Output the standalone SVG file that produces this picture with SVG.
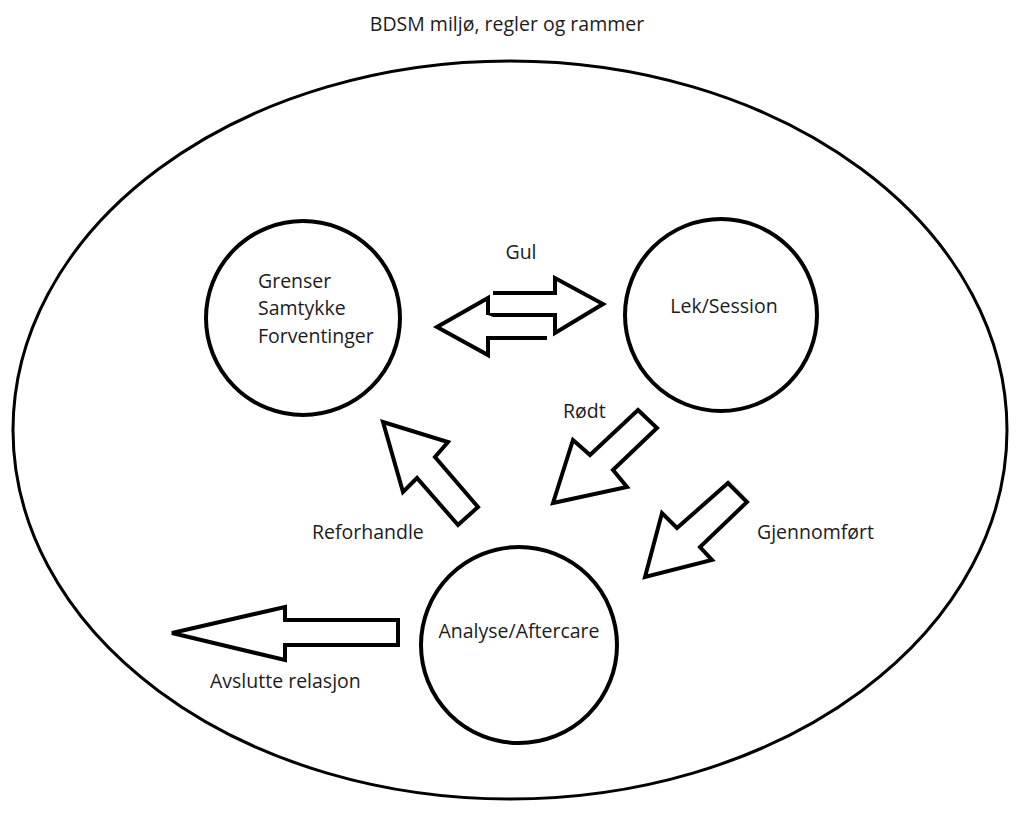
<svg xmlns="http://www.w3.org/2000/svg" width="1018" height="813" viewBox="0 0 1018 813">
<style>
.t{font-family:"Open Sans","Noto Sans","Liberation Sans",sans-serif;font-size:19.5px;fill:#1c1c1c}
.c{fill:#fff;stroke:#000;stroke-width:4}
.a{fill:#fff;stroke:#000;stroke-width:4;stroke-linejoin:miter}
</style>
<rect width="1018" height="813" fill="#fff"/>
<text class="t" x="507" y="31" text-anchor="middle">BDSM miljø, regler og rammer</text>
<g id="frame"><ellipse cx="510" cy="430" rx="497" ry="369" fill="#fff" stroke="#000" stroke-width="3"/></g>
<g id="grenser">
<circle class="c" cx="303" cy="318" r="97"/>
<text class="t" x="258" y="288">Grenser</text>
<text class="t" x="258" y="315">Samtykke</text>
<text class="t" x="258" y="343">Forventinger</text>
</g>
<g id="lek">
<circle class="c" cx="721" cy="315" r="96"/>
<text class="t" x="724" y="313" text-anchor="middle">Lek/Session</text>
</g>
<g id="analyse">
<circle class="c" cx="519" cy="645" r="98"/>
<text class="t" x="519" y="638" text-anchor="middle">Analyse/Aftercare</text>
</g>
<g id="connectors">
<path class="a" d="M493,293 L555,293 L555,278 L603,304 L555,333 L555,315 L488,315"/>
<path class="a" d="M488,315 L488,298 L437,327 L488,355 L488,338 L547,338"/>
<polygon class="a" points="638,410 657,428 613,470 627,487 553,503 573,440 590,455"/>
<polygon class="a" points="383,422 448,442 435,457 478,507 458,525 417,478 403,492"/>
<polygon class="a" points="728,483 747,502 700,547 712,560 645,577 662,513 677,528"/>
<polygon class="a" points="172,633 285,607 285,620 398,620 398,645 285,645 285,660"/>
<text class="t" x="521" y="259" text-anchor="middle">Gul</text>
<text class="t" x="563" y="418">Rødt</text>
<text class="t" x="312" y="539">Reforhandle</text>
<text class="t" x="757" y="539">Gjennomført</text>
<text class="t" x="210" y="688">Avslutte relasjon</text>
</g>
</svg>
